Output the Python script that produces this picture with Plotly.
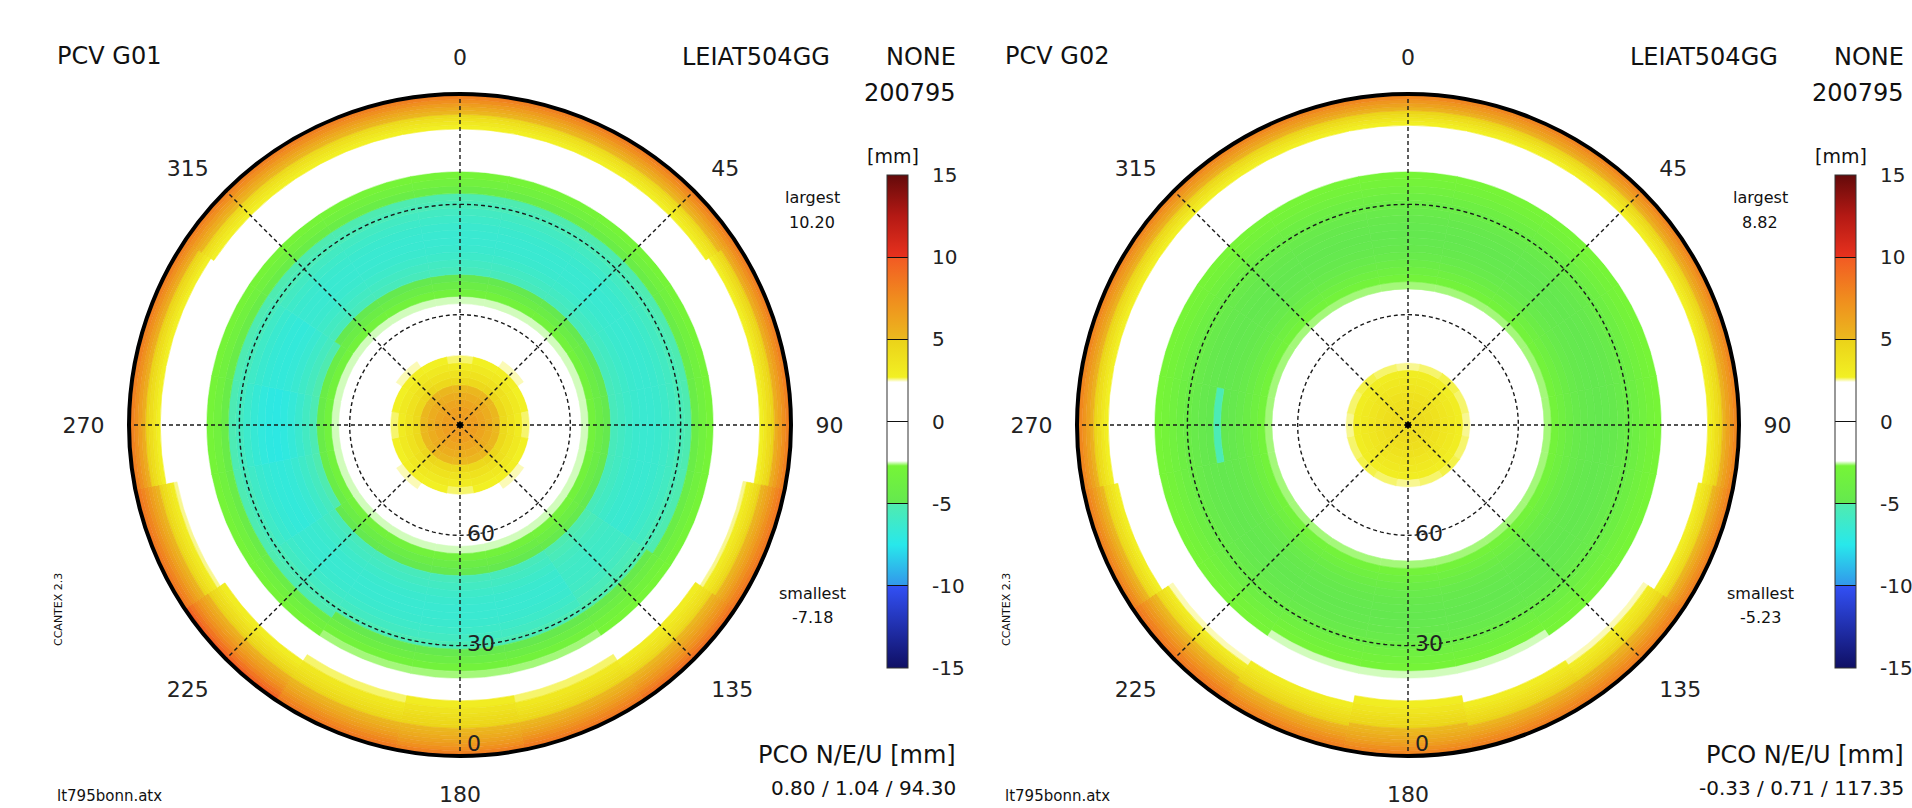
import plotly.graph_objects as go

# ---------------------------------------------------------------- data
# zenith angle nodes of the phase centre variation tables [deg]
ZEN_INNER = [0, 2, 4, 6, 8, 10, 12, 14, 16, 18, 20, 22, 24, 26, 28, 30,
             32, 34]
ZEN_MIDDLE = [36, 38, 40, 42, 44, 46, 48, 50, 52, 54, 56, 58, 60, 62, 64,
              66, 68]
ZEN_OUTER = [70, 72, 74, 76, 78, 79, 80, 81, 82, 83, 84, 85, 86, 87, 88,
             89, 90]
ZENITH = ZEN_INNER + ZEN_MIDDLE + ZEN_OUTER
# azimuth sectors of the tables [deg]
AZIMUTH = [0, 22.5, 45, 67.5, 90, 112.5, 135, 157.5, 180, 202.5, 225,
           247.5, 270, 292.5, 315, 337.5]

# ---- G01 PCV [mm], pieces of the zenith profile per azimuth sector
G01_IN_CARD = [6.8, 6.7, 6.5, 6.1, 5.6, 5.0, 4.4, 3.7, 3.1, 2.6, 2.0, 1.2,
               0.3, -0.6, -1.3, -1.8, -2.2, -2.5]
G01_IN_MID = [6.8, 6.7, 6.5, 6.1, 5.65, 5.1, 4.5, 3.8, 3.2, 2.7, 2.2,
              1.45, 0.5, -0.45, -1.2, -1.8, -2.2, -2.5]
G01_IN_DIAG = [6.8, 6.7, 6.5, 6.15, 5.7, 5.15, 4.6, 3.95, 3.35, 2.85, 2.5,
               1.7, 0.7, -0.3, -1.15, -1.75, -2.2, -2.5]

G01_MID = [-3.2, -4.1, -4.9, -5.5, -5.8, -6.1, -6.3, -6.4, -6.4, -6.3,
           -6.1, -5.8, -5.4, -5.1, -4.2, -3.4, -2.8]
G01_MID_WEST = [-3.3, -4.3, -5.2, -5.8, -6.3, -6.7, -7.0, -7.18, -7.1,
                -6.9, -6.6, -6.2, -5.7, -5.2, -4.3, -3.4, -2.8]
G01_MID_WEST2 = [-3.25, -4.2, -5.05, -5.65, -6.05, -6.4, -6.65, -6.8,
                 -6.75, -6.6, -6.35, -6.0, -5.55, -5.15, -4.25, -3.4, -2.8]
G01_MID_SOUTH = [-3.2, -4.1, -4.9, -5.5, -5.8, -6.1, -6.3, -6.4, -6.4,
                 -6.3, -6.1, -5.8, -5.3, -4.8, -4.0, -3.2, -2.6]
G01_MID_SE = [-3.1, -3.9, -4.6, -5.1, -5.4, -5.7, -5.9, -6.0, -6.0, -5.9,
              -5.7, -5.4, -5.1, -4.6, -3.9, -3.2, -2.7]

G01_OUT_82 = [-2.4, -1.7, -0.9, 0.1, 1.1, 1.55, 2.0, 2.35, 2.7, 3.4, 4.1,
              4.8, 5.6, 6.4, 7.2, 8.0, 8.8]
G01_OUT_81 = [-2.35, -1.5, -0.6, 0.5, 1.5, 1.9, 2.3, 2.7, 3.2, 3.8, 4.4,
              5.1, 5.8, 6.5, 7.3, 8.0, 8.8]
G01_OUT_79 = [-2.3, -1.3, -0.2, 1.0, 2.1, 2.55, 3.0, 3.5, 4.0, 4.6, 5.2,
              5.8, 6.4, 7.1, 7.8, 8.4, 9.0]
G01_OUT_SW = [-2.2, -1.1, 0.3, 1.9, 2.9, 3.4, 3.9, 4.4, 4.9, 5.4, 5.9,
              6.5, 7.1, 7.8, 8.6, 9.4, 10.2]
G01_OUT_SE = [-2.2, -1.1, 0.3, 1.9, 2.9, 3.3, 3.7, 4.1, 4.6, 5.1, 5.6,
              6.1, 6.7, 7.3, 8.0, 8.7, 9.4]
G01_OUT_76 = [-1.9, -0.6, 1.0, 2.6, 3.3, 3.6, 3.9, 4.3, 4.7, 5.1, 5.5,
              6.0, 6.5, 7.1, 7.7, 8.3, 9.0]
G01_OUT_SOUTH = [-1.5, 0.4, 2.2, 3.0, 3.6, 3.9, 4.2, 4.5, 4.8, 5.1, 5.4,
                 5.8, 6.2, 6.7, 7.3, 8.0, 8.8]

PCV_G01 = [
    G01_IN_CARD + G01_MID + G01_OUT_81,            # 0
    G01_IN_MID + G01_MID + G01_OUT_81,             # 22.5
    G01_IN_DIAG + G01_MID + G01_OUT_81,            # 45
    G01_IN_MID + G01_MID + G01_OUT_82,             # 67.5
    G01_IN_CARD + G01_MID + G01_OUT_82,            # 90
    G01_IN_MID + G01_MID + G01_OUT_79,             # 112.5
    G01_IN_DIAG + G01_MID_SE + G01_OUT_SE,         # 135
    G01_IN_MID + G01_MID_SOUTH + G01_OUT_76,       # 157.5
    G01_IN_CARD + G01_MID_SOUTH + G01_OUT_SOUTH,   # 180
    G01_IN_MID + G01_MID_SOUTH + G01_OUT_76,       # 202.5
    G01_IN_DIAG + G01_MID + G01_OUT_SW,            # 225
    G01_IN_MID + G01_MID_WEST2 + G01_OUT_79,       # 247.5
    G01_IN_CARD + G01_MID_WEST + G01_OUT_82,       # 270
    G01_IN_MID + G01_MID_WEST2 + G01_OUT_82,       # 292.5
    G01_IN_DIAG + G01_MID + G01_OUT_81,            # 315
    G01_IN_MID + G01_MID + G01_OUT_81,             # 337.5
]

# ---- G02 PCV [mm], pieces of the zenith profile per azimuth sector
G02_IN_CARD = [4.3, 4.3, 4.2, 4.0, 3.8, 3.5, 3.2, 2.9, 2.55, 2.2, 1.7, 1.1,
               0.5, -0.1, -0.7, -1.2, -1.6, -2.0]
G02_IN_MID = [4.3, 4.3, 4.2, 4.0, 3.8, 3.5, 3.2, 2.9, 2.6, 2.25, 1.75,
              1.1, 0.5, -0.1, -0.7, -1.2, -1.6, -2.0]
G02_IN_DIAG = [4.3, 4.3, 4.2, 4.0, 3.8, 3.55, 3.25, 2.95, 2.65, 2.3, 1.8,
               1.15, 0.5, -0.1, -0.7, -1.2, -1.6, -2.0]

G02_MID = [-2.3, -2.6, -3.1, -3.6, -4.1, -4.5, -4.75, -4.9, -4.95, -4.9,
           -4.75, -4.5, -4.2, -3.8, -3.4, -3.0, -2.7]
G02_MID_WEST = [-2.3, -2.6, -3.1, -3.6, -4.1, -4.5, -4.8, -4.95, -5.23,
                -4.95, -4.8, -4.5, -4.2, -3.8, -3.4, -3.0, -2.7]
G02_MID_SOUTH = [-2.3, -2.6, -3.1, -3.6, -4.1, -4.5, -4.75, -4.9, -4.95,
                 -4.9, -4.75, -4.5, -4.1, -3.6, -3.2, -2.8, -2.5]

G02_OUT_81 = [-2.4, -1.8, -1.0, -0.1, 0.9, 1.4, 1.9, 2.3, 2.7, 3.3, 4.0,
              4.7, 5.4, 6.2, 6.9, 7.7, 8.4]
G02_OUT_80 = [-2.35, -1.6, -0.7, 0.3, 1.4, 1.9, 2.4, 2.8, 3.3, 3.9, 4.5,
              5.1, 5.8, 6.5, 7.2, 7.9, 8.6]
G02_OUT_SW = [-2.3, -1.3, -0.1, 1.2, 2.5, 3.0, 3.5, 4.0, 4.5, 5.0, 5.5,
              6.1, 6.7, 7.3, 7.9, 8.4, 8.82]
G02_OUT_SE = [-2.3, -1.3, -0.1, 1.2, 2.5, 3.0, 3.4, 3.8, 4.2, 4.7, 5.2,
              5.7, 6.3, 6.9, 7.5, 8.0, 8.5]
G02_OUT_77 = [-2.1, -0.9, 0.6, 2.0, 2.9, 3.3, 3.7, 4.1, 4.5, 4.9, 5.3,
              5.8, 6.3, 6.9, 7.5, 8.0, 8.5]
G02_OUT_SOUTH = [-1.7, 0.0, 1.8, 2.9, 3.5, 3.8, 4.1, 4.4, 4.7, 5.0, 5.3,
                 5.7, 6.1, 6.6, 7.2, 7.8, 8.5]

PCV_G02 = [
    G02_IN_CARD + G02_MID + G02_OUT_81,            # 0
    G02_IN_MID + G02_MID + G02_OUT_81,             # 22.5
    G02_IN_DIAG + G02_MID + G02_OUT_81,            # 45
    G02_IN_MID + G02_MID + G02_OUT_81,             # 67.5
    G02_IN_CARD + G02_MID + G02_OUT_81,            # 90
    G02_IN_MID + G02_MID + G02_OUT_80,             # 112.5
    G02_IN_DIAG + G02_MID + G02_OUT_SE,            # 135
    G02_IN_MID + G02_MID_SOUTH + G02_OUT_77,       # 157.5
    G02_IN_CARD + G02_MID_SOUTH + G02_OUT_SOUTH,   # 180
    G02_IN_MID + G02_MID_SOUTH + G02_OUT_77,       # 202.5
    G02_IN_DIAG + G02_MID + G02_OUT_SW,            # 225
    G02_IN_MID + G02_MID + G02_OUT_80,             # 247.5
    G02_IN_CARD + G02_MID_WEST + G02_OUT_81,       # 270
    G02_IN_MID + G02_MID + G02_OUT_81,             # 292.5
    G02_IN_DIAG + G02_MID + G02_OUT_81,            # 315
    G02_IN_MID + G02_MID + G02_OUT_81,             # 337.5
]

SATELLITES = ["G01", "G02"]
LARGEST = ["10.20", "8.82"]
SMALLEST = ["-7.18", "-5.23"]
PCO_NEU = ["0.80 / 1.04 / 94.30", "-0.33 / 0.71 / 117.35"]

AZ_TICKS = [0, 45, 90, 135, 180, 225, 270, 315]
ELEV_TICKS = [60, 30, 0]
ELEV_LABEL_POS = ["middle right", "middle right", "top right"]
CB_TICKS = [-15, -10, -5, 0, 5, 10, 15]

# value -> colour stops of the PCV colour bar
CB_STOPS = [
    (-15.0, "rgb(15,15,100)"), (-10.0, "rgb(50,80,245)"),
    (-10.0, "rgb(50,150,235)"), (-7.5, "rgb(40,232,235)"),
    (-5.0, "rgb(80,235,175)"), (-5.0, "rgb(100,232,80)"),
    (-2.7, "rgb(118,245,55)"), (-2.4, "rgb(255,255,255)"),
    (2.4, "rgb(255,255,255)"), (2.7, "rgb(242,240,35)"),
    (5.0, "rgb(235,210,25)"), (5.0, "rgb(235,185,30)"),
    (7.5, "rgb(240,140,30)"), (10.0, "rgb(242,90,35)"),
    (10.0, "rgb(232,50,30)"), (12.5, "rgb(180,25,20)"),
    (15.0, "rgb(100,10,10)"),
]
VMIN, VMAX = -15.0, 15.0
COLORSCALE = [[(v - VMIN) / (VMAX - VMIN), c] for v, c in CB_STOPS]

# ---------------------------------------------------------------- layout
W, H = 1912, 808
FONT = "DejaVu Sans"
PANEL_SHIFT = 948            # horizontal offset of the second panel [px]
CX, CY, RAD = 460, 425, 331  # first polar centre / radius [px]
NBSP = "\u00a0"
GRID_LINE = dict(color="#1a1a1a", width=1.4, dash="4px,3px")


def px(x):
    return x / W


def py(y):
    return 1 - y / H


# radial extent of each table cell: half way to the neighbouring nodes
mids = [(a + b) / 2 for a, b in zip(ZENITH[:-1], ZENITH[1:])]
cell_lo = [ZENITH[0]] + mids
cell_hi = mids + [ZENITH[-1]]

fig = go.Figure()

for k, (sat, table) in enumerate(zip(SATELLITES, [PCV_G01, PCV_G02])):
    polar = "polar" if k == 0 else "polar2"
    cax = "coloraxis" if k == 0 else "coloraxis2"
    daz = AZIMUTH[1] - AZIMUTH[0]

    theta, base, r, val = [], [], [], []
    for az, row in zip(AZIMUTH, table):
        for lo, hi, v in zip(cell_lo, cell_hi, row):
            theta.append(az)
            base.append(lo)
            r.append(hi - lo)
            val.append(v)

    fig.add_trace(go.Barpolar(
        theta=theta, r=r, base=base, width=daz, subplot=polar,
        marker=dict(color=val, coloraxis=cax,
                    line=dict(color=val, colorscale=COLORSCALE,
                              cmin=VMIN, cmax=VMAX, width=0.6)),
        hoverinfo="skip", showlegend=False,
    ))

    # dashed grid: azimuth spokes and elevation circles
    for az in AZ_TICKS:
        fig.add_trace(go.Scatterpolar(
            r=[0, ZENITH[-1]], theta=[az, az], mode="lines", subplot=polar,
            line=GRID_LINE, hoverinfo="skip", showlegend=False))
    circle_theta = list(range(0, 361, 2))
    for e in ELEV_TICKS[:-1]:
        fig.add_trace(go.Scatterpolar(
            r=[90 - e] * len(circle_theta), theta=circle_theta,
            mode="lines", subplot=polar, line=GRID_LINE,
            hoverinfo="skip", showlegend=False))
    fig.add_trace(go.Scatterpolar(
        r=[0], theta=[0], mode="markers", subplot=polar,
        marker=dict(color="black", size=6), hoverinfo="skip",
        showlegend=False))

    # elevation labels along the 180 deg spoke
    fig.add_trace(go.Scatterpolar(
        r=[90 - e for e in ELEV_TICKS], theta=[180] * len(ELEV_TICKS),
        mode="text", subplot=polar,
        text=[NBSP + str(e) for e in ELEV_TICKS],
        textposition=ELEV_LABEL_POS,
        textfont=dict(family=FONT, size=22, color="#222"),
        hoverinfo="skip", showlegend=False))

    off = k * PANEL_SHIFT
    dom_x = [px(CX - RAD + off), px(CX + RAD + off)]
    dom_y = [py(CY + RAD), py(CY - RAD)]
    fig.update_layout(**{polar: dict(
        domain=dict(x=dom_x, y=dom_y),
        bgcolor="white",
        barmode="overlay",
        angularaxis=dict(
            rotation=90, direction="clockwise",
            tickmode="array", tickvals=AZ_TICKS,
            ticktext=[str(a) for a in AZ_TICKS],
            showgrid=False, showline=True, linecolor="black", linewidth=4,
            ticks="outside", ticklen=18, tickcolor="rgba(0,0,0,0)",
            tickfont=dict(family=FONT, size=22, color="#222"),
            layer="above traces"),
        radialaxis=dict(
            range=[ZENITH[0], ZENITH[-1]], showticklabels=False,
            showgrid=False, showline=False, ticks=""),
    )})

    cb_x = 887 + off
    fig.update_layout(**{cax: dict(
        colorscale=COLORSCALE, cmin=VMIN, cmax=VMAX,
        colorbar=dict(
            x=px(cb_x), xanchor="left", y=py(421.5), yanchor="middle",
            len=493, lenmode="pixels", thickness=21,
            thicknessmode="pixels", outlinewidth=1, outlinecolor="#333",
            tickmode="array", tickvals=CB_TICKS,
            ticktext=[NBSP * 3 + str(t) for t in CB_TICKS],
            ticks="inside", ticklen=21, tickwidth=1.3, tickcolor="#111",
            tickfont=dict(family=FONT, size=20, color="#222"),
            xpad=0, ypad=0),
    )})

    def note(text, x, y, size, xanchor="left", yanchor="middle",
             textangle=0):
        fig.add_annotation(text=text, x=px(x + off), y=py(y),
                           xref="paper", yref="paper", showarrow=False,
                           xanchor=xanchor, yanchor=yanchor,
                           textangle=textangle,
                           font=dict(family=FONT, size=size, color="#111"))

    note("PCV " + sat, 55, 56, 24)
    note("LEIAT504GG", 832, 57, 24, xanchor="right")
    note("NONE", 958, 57, 24, xanchor="right")
    note("200795", 958, 93, 24, xanchor="right")
    note("[mm]", 893, 156, 19, xanchor="center")
    note("largest", 812, 197, 16, xanchor="center")
    note(LARGEST[k], 812, 222, 16, xanchor="center")
    note("smallest", 812, 593, 16, xanchor="center")
    note(SMALLEST[k], 812, 617, 16, xanchor="center")
    note("CCANTEX 2.3", 58, 610, 11, xanchor="center", textangle=-90)
    note("lt795bonn.atx", 55, 796, 15)
    note("PCO N/E/U [mm]", 958, 755, 24, xanchor="right")
    note(PCO_NEU[k], 958, 788, 20, xanchor="right")

fig.update_layout(
    width=W, height=H,
    margin=dict(l=0, r=0, t=0, b=0, autoexpand=False),
    paper_bgcolor="white", plot_bgcolor="white",
    font=dict(family=FONT, color="#222"),
)

fig.write_html("out.html")
